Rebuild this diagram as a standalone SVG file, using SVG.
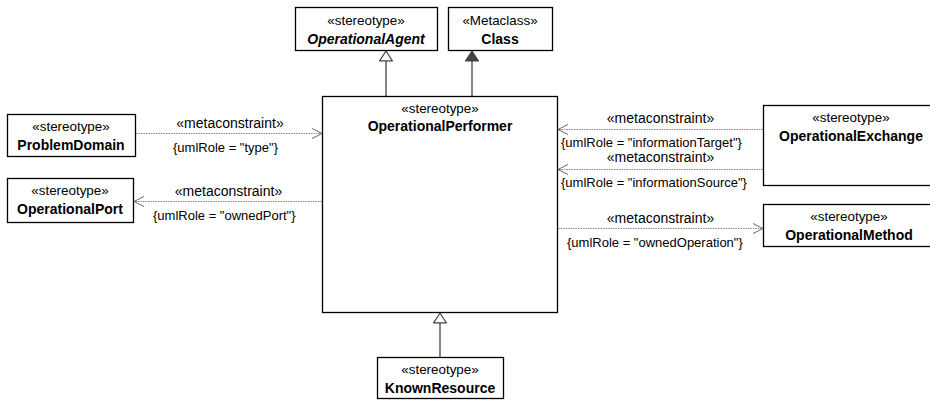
<svg xmlns="http://www.w3.org/2000/svg" width="930" height="400" viewBox="0 0 930 400">
<style>
.box{fill:#fff;stroke:#000;stroke-width:1.3}
.st{font-family:"Liberation Sans",Arial,sans-serif;font-size:13.4px;fill:#000;text-anchor:middle}
.nm{font-family:"Liberation Sans",Arial,sans-serif;font-size:14px;font-weight:bold;fill:#000;text-anchor:middle}
.it{font-style:italic}
.mc{font-family:"Liberation Sans",Arial,sans-serif;font-size:14px;fill:#000;text-anchor:middle}
.ur{font-family:"Liberation Sans",Arial,sans-serif;font-size:13px;fill:#000}
.dep{fill:none;stroke:#888;stroke-width:1;stroke-dasharray:1.5,1}
.gen{fill:none;stroke:#444;stroke-width:1.3}
</style>
<defs>
<marker id="open" markerWidth="12" markerHeight="12" refX="10" refY="5" orient="auto" markerUnits="userSpaceOnUse" viewBox="0 0 12 10">
<path d="M0,0 L10,5 L0,10" fill="none" stroke="#666" stroke-width="1"/>
</marker>
<marker id="hollow" markerWidth="14" markerHeight="14" refX="9" refY="6" orient="auto" markerUnits="userSpaceOnUse" viewBox="0 0 10 12">
<path d="M0.5,0.5 L9,6 L0.5,11.5 Z" fill="#fff" stroke="#444" stroke-width="1"/>
</marker>
<marker id="filled" markerWidth="14" markerHeight="14" refX="9" refY="6" orient="auto" markerUnits="userSpaceOnUse" viewBox="0 0 10 12">
<path d="M0.5,0.5 L9,6 L0.5,11.5 Z" fill="#444" stroke="#444" stroke-width="1"/>
</marker>
</defs>

<g id="connectors">
<line class="gen" x1="386" y1="96" x2="386" y2="51" marker-end="url(#hollow)"/>
<line class="gen" x1="472" y1="96" x2="472" y2="51" marker-end="url(#filled)"/>
<line class="gen" x1="440" y1="357" x2="440" y2="313" marker-end="url(#hollow)"/>
<line class="dep" x1="136" y1="133.5" x2="322" y2="133.5" marker-end="url(#open)"/>
<line class="dep" x1="322" y1="201.5" x2="134" y2="201.5" marker-end="url(#open)"/>
<line class="dep" x1="763" y1="129.5" x2="558" y2="129.5" marker-end="url(#open)"/>
<line class="dep" x1="763" y1="169.5" x2="558" y2="169.5" marker-end="url(#open)"/>
<line class="dep" x1="558" y1="228.5" x2="763" y2="228.5" marker-end="url(#open)"/>
<text class="mc" x="230" y="127.5">«metaconstraint»</text>
<text class="ur" x="173" y="152">{umlRole = "type"}</text>
<text class="mc" x="228.5" y="195.5">«metaconstraint»</text>
<text class="ur" x="153" y="219.5">{umlRole = "ownedPort"}</text>
<text class="mc" x="660.5" y="123">«metaconstraint»</text>
<text class="ur" x="561" y="147">{umlRole = "informationTarget"}</text>
<text class="mc" x="660.5" y="161.5">«metaconstraint»</text>
<text class="ur" x="561" y="187">{umlRole = "informationSource"}</text>
<text class="mc" x="660.5" y="222.5">«metaconstraint»</text>
<text class="ur" x="567" y="247">{umlRole = "ownedOperation"}</text>
</g>

<g id="OperationalAgent">
<rect class="box" x="295.5" y="7.5" width="142" height="43"/>
<text class="st" x="366" y="25">«stereotype»</text>
<text class="nm it" x="366" y="44">OperationalAgent</text>
</g>

<g id="Class">
<rect class="box" x="448.5" y="7.5" width="104" height="43"/>
<text class="st" x="500" y="25">«Metaclass»</text>
<text class="nm" x="500" y="44">Class</text>
</g>

<g id="OperationalPerformer">
<rect class="box" x="322.5" y="96.5" width="235" height="216"/>
<text class="st" x="440" y="113">«stereotype»</text>
<text class="nm" x="440" y="131">OperationalPerformer</text>
</g>

<g id="ProblemDomain">
<rect class="box" x="7.5" y="114.5" width="128" height="42"/>
<text class="st" x="71" y="131">«stereotype»</text>
<text class="nm" x="71" y="150">ProblemDomain</text>
</g>

<g id="OperationalPort">
<rect class="box" x="7.5" y="178.5" width="126" height="44"/>
<text class="st" x="70" y="195">«stereotype»</text>
<text class="nm" x="70" y="214">OperationalPort</text>
</g>

<g id="OperationalExchange">
<rect class="box" x="763.5" y="105.5" width="176" height="80"/>
<text class="st" x="851" y="122">«stereotype»</text>
<text class="nm" x="851" y="141">OperationalExchange</text>
</g>

<g id="OperationalMethod">
<rect class="box" x="763.5" y="204.5" width="172" height="42"/>
<text class="st" x="849" y="221">«stereotype»</text>
<text class="nm" x="849" y="240">OperationalMethod</text>
</g>

<g id="KnownResource">
<rect class="box" x="377.5" y="357.5" width="126" height="41"/>
<text class="st" x="440" y="374">«stereotype»</text>
<text class="nm" x="440" y="393">KnownResource</text>
</g>
</svg>
